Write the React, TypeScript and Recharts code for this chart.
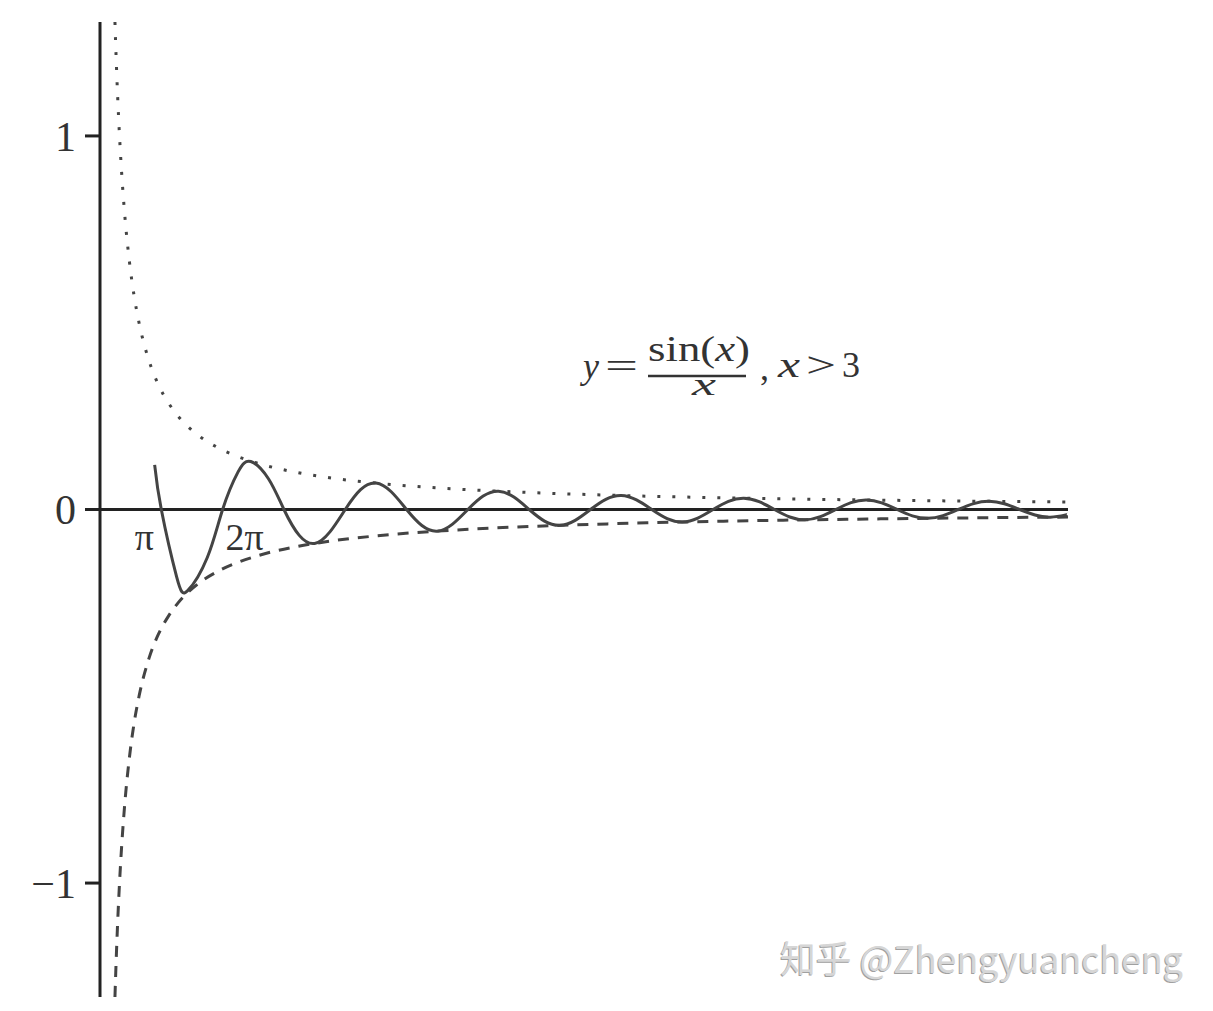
import React from 'react';
import { LineChart, Line, XAxis, YAxis, ReferenceLine, ReferenceDot } from 'recharts';

// y = sin(x)/x
const curveX = [
  2.8, 3.1416, 3.927, 4.493, 5.4978, 6.2832, 7.0686, 7.725, 8.6394, 9.4248,
  10.2102, 10.9956, 11.781, 12.5664, 13.3518, 14.1372, 14.9226, 15.708,
  16.4934, 17.2788, 18.0642, 18.8496, 19.635, 20.4204, 21.2058, 21.9911,
  22.7765, 23.5619, 24.3473, 25.1327, 25.9181, 26.7035, 27.4889, 28.2743,
  29.0597, 29.8451, 30.6305, 31.4159, 32.2013, 32.9867, 33.7721, 34.5575,
  35.3429, 36.1283, 36.9137, 37.6991, 38.4845, 39.2699, 40.0553, 40.8407,
  41.6261, 42.4115, 43.1969, 43.9823, 44.7677, 45.5531, 46.3385, 47.1239,
  47.9093, 48.6947, 49.4801, 49.6,
];
const curveY = [
  0.1196, 0, -0.1801, -0.2172, -0.1286, 0, 0.1, 0.1284, 0.0818, 0,
  -0.0693, -0.0909, -0.06, 0, 0.053, 0.0707, 0.0474, 0,
  -0.0429, -0.0579, -0.0391, 0, 0.036, 0.049, 0.0333, 0,
  -0.031, -0.0424, -0.029, 0, 0.0273, 0.0374, 0.0257, 0,
  -0.0243, -0.0335, -0.0231, 0, 0.022, 0.0303, 0.0209, 0,
  -0.02, -0.0277, -0.0192, 0, 0.0184, 0.0255, 0.0177, 0,
  -0.017, -0.0236, -0.0164, 0, 0.0158, 0.022, 0.0153, 0,
  -0.0148, -0.0205, -0.0143, -0.0125,
];

// envelopes (dotted above, dashed below)
const envX = [
  0.766, 0.8, 0.9, 1, 1.1, 1.25, 1.5, 1.75, 2, 2.5, 3, 3.5, 4, 5, 6, 7, 8,
  10, 12, 15, 18, 22, 26, 30, 35, 40, 45, 49.6,
];
const upperY = [
  1.305, 1.25, 1.111, 1, 0.909, 0.8, 0.667, 0.571, 0.5, 0.4, 0.333, 0.286,
  0.25, 0.2, 0.1667, 0.1429, 0.125, 0.1, 0.0833, 0.0667, 0.0556, 0.0455,
  0.0385, 0.0333, 0.0286, 0.025, 0.0222, 0.0202,
];
const lowerY = upperY.map((v) => -v);

const yTicks = [-1, 0, 1];
const piMarks = [3.1416, 6.2832];
const piText = ['π', '2π'];
const piShift = [-17, 22];

const curveData = curveX.map((x, i) => ({ x, y: curveY[i] }));
const upperData = envX.map((x, i) => ({ x, y: upperY[i] }));
const lowerData = envX.map((x, i) => ({ x, y: lowerY[i] }));

const serif = '"Liberation Serif", "DejaVu Serif", serif';
const ink = '#222';
const gray = '#444';

const PiLabel = ({ viewBox, text, shift }: any) => {
  if (!viewBox) return null;
  const cx = viewBox.x + viewBox.width / 2;
  const cy = viewBox.y + viewBox.height / 2;
  return (
    <text x={cx + shift} y={cy + 40} textAnchor="middle" fontFamily={serif} fontSize={38} fill="#333">
      {text}
    </text>
  );
};

const Overlay = () => (
  <svg width={1213} height={1011} style={{ position: 'absolute', left: 0, top: 0, pointerEvents: 'none' }}>
    <g fontFamily={serif} fill="#333" fontSize={36}>
      <text x={583} y={378} fontStyle="italic">y</text>
      <text x={605} y={378} textLength={33} lengthAdjust="spacingAndGlyphs">=</text>
      <text x={648} y={361} fontSize={35} textLength={102} lengthAdjust="spacingAndGlyphs">
        sin(<tspan fontStyle="italic">x</tspan>)
      </text>
      <line x1={648} x2={746} y1={376} y2={376} stroke="#333" strokeWidth={2.5} />
      <text x={692} y={395} fontSize={32} fontStyle="italic" textLength={24} lengthAdjust="spacingAndGlyphs">x</text>
      <text x={760} y={380}>,</text>
      <text x={778} y={377} fontStyle="italic" textLength={22} lengthAdjust="spacingAndGlyphs">x</text>
      <text x={806} y={377} textLength={30} lengthAdjust="spacingAndGlyphs">&gt;</text>
      <text x={842} y={377}>3</text>
    </g>
    <g fontFamily='"Noto Sans CJK SC", "Noto Sans", sans-serif' fontSize={37}>
      <text x={779} y={974} fill="#a0a0a0" textLength={403} lengthAdjust="spacingAndGlyphs">
        知乎 @Zhengyuancheng
      </text>
      <text x={780} y={973} fill="#d6d6d6" textLength={403} lengthAdjust="spacingAndGlyphs">
        知乎 @Zhengyuancheng
      </text>
    </g>
  </svg>
);

export default function App() {
  return (
    <div style={{ position: 'absolute', left: 0, top: 0, width: 1213, height: 1011, background: '#fff' }}>
      <LineChart width={1213} height={1011} margin={{ top: 22, right: 145, bottom: 14, left: 0 }}>
        <XAxis type="number" dataKey="x" domain={[0, 49.6]} hide allowDataOverflow />
        <YAxis
          type="number"
          domain={[-1.305, 1.305]}
          ticks={yTicks}
          width={100}
          allowDataOverflow
          tickSize={15}
          tickMargin={9}
          axisLine={{ stroke: ink, strokeWidth: 3 }}
          tickLine={{ stroke: ink, strokeWidth: 3 }}
          tick={{ fontFamily: serif, fontSize: 42, fill: '#333' }}
          tickFormatter={(v: number) => (v < 0 ? '\u2212' + Math.abs(v) : String(v))}
        />
        <ReferenceLine y={0} stroke={ink} strokeWidth={3} />
        <Line
          data={upperData}
          dataKey="y"
          type="monotone"
          stroke={gray}
          strokeWidth={3}
          strokeDasharray="3 12"
          dot={false}
          activeDot={false}
          isAnimationActive={false}
        />
        <Line
          data={lowerData}
          dataKey="y"
          type="monotone"
          stroke={gray}
          strokeWidth={3}
          strokeDasharray="11 9"
          dot={false}
          activeDot={false}
          isAnimationActive={false}
        />
        <Line
          data={curveData}
          dataKey="y"
          type="natural"
          stroke={gray}
          strokeWidth={3}
          dot={false}
          activeDot={false}
          isAnimationActive={false}
        />
        {piMarks.map((m, i) => (
          <ReferenceDot
            key={m}
            x={m}
            y={0}
            r={1}
            fill="none"
            stroke="none"
            label={(p: any) => <PiLabel {...p} text={piText[i]} shift={piShift[i]} />}
          />
        ))}
      </LineChart>
      <Overlay />
    </div>
  );
}
